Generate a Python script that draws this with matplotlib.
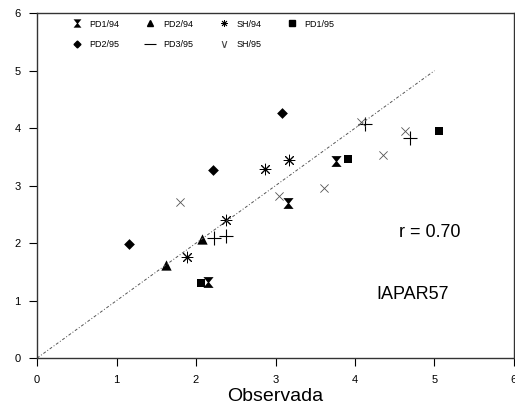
import matplotlib
matplotlib.use("Agg")
import matplotlib.pyplot as plt
from matplotlib.lines import Line2D

plt.rcParams['font.family'] = ['Liberation Sans', 'DejaVu Sans']

# Observed (x) vs simulated (y) per series
pd1_94_x = [2.15, 3.76, 3.16]
pd1_94_y = [1.32, 3.43, 2.70]
pd2_94_x = [1.62, 2.08]
pd2_94_y = [1.62, 2.07]
sh_94_x = [1.89, 2.38, 2.87, 3.17]
sh_94_y = [1.76, 2.40, 3.29, 3.44]
pd1_95_x = [2.06, 3.91, 5.06]
pd1_95_y = [1.30, 3.46, 3.95]
pd2_95_x = [1.16, 2.21, 3.08]
pd2_95_y = [1.98, 3.27, 4.26]
pd3_95_x = [2.22, 2.38, 4.69, 4.12]
pd3_95_y = [2.09, 2.12, 3.83, 4.08]
sh_95_x = [1.80, 3.05, 3.61, 4.35, 4.63, 4.08]
sh_95_y = [2.71, 2.82, 2.96, 3.53, 3.95, 4.10]

line_x = [0, 5]
line_y = [0, 5]

xticks = [0, 1, 2, 3, 4, 5, 6]
yticks = [0, 1, 2, 3, 4, 5, 6]

fig = plt.figure(figsize=(5.15, 4.13), dpi=100)
ax = fig.add_axes([0.072, 0.133, 0.926, 0.835])

ax.plot(line_x, line_y, color='#555555', lw=0.7, ls=(0, (3, 2, 1, 2)))

ax.scatter(pd1_94_x, pd1_94_y, marker='$\u29D7$', s=60, color='black', linewidths=0)
ax.scatter(pd2_94_x, pd2_94_y, marker='^', s=55, color='black', linewidths=0)
ax.scatter(sh_94_x, sh_94_y, marker=(8, 2, 0), s=60, color='black', linewidths=0.7)
ax.scatter(pd1_95_x, pd1_95_y, marker='s', s=28, color='black', linewidths=0)
ax.scatter(pd2_95_x, pd2_95_y, marker='D', s=30, color='black', linewidths=0)
ax.scatter(pd3_95_x, pd3_95_y, marker='+', s=90, color='black', linewidths=0.8)
ax.scatter(sh_95_x, sh_95_y, marker='x', s=35, color='#555555', linewidths=0.6)

h_pd1_94 = Line2D([], [], ls='none', marker='$\u29D7$', color='black', ms=6, mew=0)
h_pd2_94 = Line2D([], [], ls='none', marker='^', color='black', ms=5)
h_sh_94 = Line2D([], [], ls='none', marker=(8, 2, 0), color='black', ms=5, mew=0.6)
h_pd1_95 = Line2D([], [], ls='none', marker='s', color='black', ms=4)
h_pd2_95 = Line2D([], [], ls='none', marker='D', color='black', ms=3.5)
h_pd3_95 = Line2D([], [], ls='none', marker='_', color='black', ms=8, mew=0.8)
h_sh_95 = Line2D([], [], ls='none', marker='$\\vee$', color='#444444', ms=5, mew=0)

# column-major order so rows read: PD1/94 PD2/94 SH/94 PD1/95 / PD2/95 PD3/95 SH/95
handles = [h_pd1_94, h_pd2_95, h_pd2_94, h_pd3_95, h_sh_94, h_sh_95, h_pd1_95]
labels = ['PD1/94', 'PD2/95', 'PD2/94', 'PD3/95', 'SH/94', 'SH/95', 'PD1/95']
ax.legend(handles, labels, loc='upper left', bbox_to_anchor=(0.055, 1.005), ncol=4,
          frameon=False, fontsize=6.5, handlelength=1.2, handletextpad=0.8,
          columnspacing=2.8, labelspacing=1.3)

ax.text(4.94, 2.19, 'r = 0.70', fontsize=13, ha='center', va='center')
ax.text(4.73, 1.10, 'IAPAR57', fontsize=13, ha='center', va='center')

ax.set_xlim(0, 6)
ax.set_ylim(0, 6)
ax.set_xticks(xticks)
ax.set_yticks(yticks)
ax.tick_params(direction='out', length=6, width=0.8, labelsize=8, pad=6)
ax.set_xlabel('Observada', fontsize=14, labelpad=2)
for s in ax.spines.values():
    s.set_linewidth(1.0)
    s.set_color('#333333')

fig.savefig('out.png', dpi=100)
